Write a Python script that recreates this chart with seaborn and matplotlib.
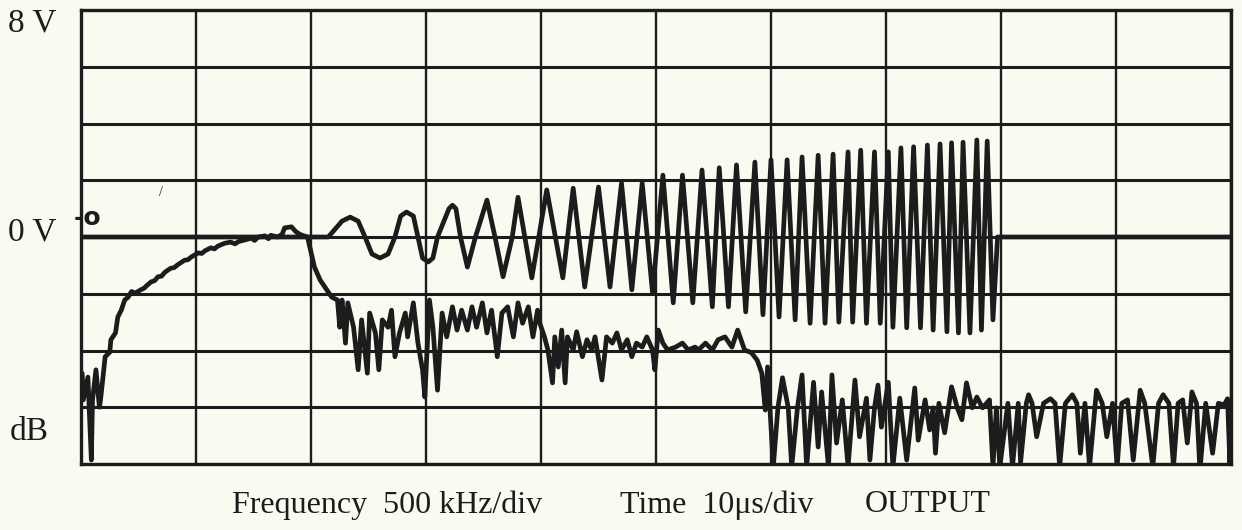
import matplotlib
matplotlib.use("Agg")
import matplotlib.pyplot as plt
import pandas as pd
import seaborn as sns

# all points are (x, y) in screen divisions: x 0..10, y -4..4 with 0 V in the middle
# time trace, 10 us/div and 2 V/div: swept sine, extremes
chirp_pts = [(0, 0), (2.15, 0),
             (2.27, 0.28), (2.34, 0.35), (2.41, 0.28), (2.47, 0), (2.53, -0.30), (2.60, -0.37),
             (2.67, -0.30), (2.73, 0), (2.78, 0.37), (2.83, 0.44), (2.89, 0.37), (2.93, 0),
             (2.97, -0.37), (3.02, -0.44), (3.06, -0.37), (3.10, 0), (3.20, 0.50), (3.23, 0.56),
             (3.26, 0.50), (3.30, 0), (3.36, -0.53), (3.43, 0), (3.53, 0.65), (3.60, 0),
             (3.67, -0.70), (3.75, 0), (3.80, 0.70), (3.92, -0.72), (4.05, 0.83),
             (4.19, -0.72), (4.28, 0.86), (4.38, -0.88), (4.50, 0.88), (4.60, -0.88),
             (4.70, 0.95), (4.79, -0.93), (4.88, 0.95), (4.97, -0.99), (5.06, 1.09),
             (5.15, -1.16), (5.23, 1.09), (5.32, -1.16), (5.40, 1.18), (5.49, -1.23),
             (5.55, 1.22), (5.63, -1.23), (5.70, 1.27), (5.78, -1.32), (5.86, 1.32),
             (5.93, -1.37), (6.00, 1.36), (6.07, -1.41), (6.14, 1.36), (6.21, -1.46),
             (6.27, 1.41), (6.34, -1.52), (6.41, 1.44), (6.47, -1.52), (6.54, 1.46),
             (6.59, -1.50), (6.67, 1.50), (6.71, -1.50), (6.78, 1.53), (6.83, -1.52),
             (6.90, 1.50), (6.95, -1.52), (7.02, 1.50), (7.06, -1.59), (7.13, 1.57),
             (7.18, -1.60), (7.24, 1.59), (7.30, -1.60), (7.36, 1.62), (7.41, -1.64),
             (7.47, 1.64), (7.53, -1.67), (7.57, 1.66), (7.63, -1.69), (7.67, 1.67),
             (7.73, -1.69), (7.79, 1.71), (7.83, -1.64), (7.88, 1.69), (7.93, -1.46),
             (7.97, 0), (10, 0)]

# spectrum trace, 500 kHz/div, dB
spec_rise = [(0.01, -2.40), (0.02, -2.87), (0.06, -2.47), (0.09, -3.93), (0.10, -2.87),
             (0.13, -2.34), (0.16, -3.00), (0.17, -2.87), (0.21, -2.11), (0.25, -2.03),
             (0.26, -1.81), (0.30, -1.69), (0.32, -1.41), (0.35, -1.29), (0.38, -1.11),
             (0.41, -1.06), (0.44, -0.96), (0.47, -0.99), (0.52, -0.93), (0.55, -0.90),
             (0.57, -0.86), (0.61, -0.79), (0.64, -0.77), (0.67, -0.70), (0.70, -0.69),
             (0.73, -0.62), (0.78, -0.55), (0.81, -0.54), (0.84, -0.49), (0.90, -0.41),
             (0.93, -0.40), (0.96, -0.35), (1.02, -0.28), (1.05, -0.29), (1.08, -0.24),
             (1.13, -0.19), (1.16, -0.21), (1.19, -0.16), (1.25, -0.11), (1.30, -0.09),
             (1.34, -0.12), (1.37, -0.08), (1.43, -0.05), (1.48, -0.02), (1.51, -0.06),
             (1.54, 0.00), (1.60, 0.02), (1.63, -0.03), (1.65, 0.03), (1.71, 0.00),
             (1.75, 0.05), (1.77, 0.16), (1.83, 0.18), (1.87, 0.09), (1.91, 0.04),
             (1.97, 0.00), (1.99, -0.18), (2.03, -0.53), (2.08, -0.76), (2.12, -0.88),
             (2.18, -1.06), (2.23, -1.11)]
spec_band = [(2.25, -1.59), (2.27, -1.11), (2.30, -1.87), (2.32, -1.16), (2.37, -1.59),
             (2.41, -2.34), (2.44, -1.46), (2.49, -2.40), (2.51, -1.34), (2.56, -1.69),
             (2.59, -2.34), (2.62, -1.46), (2.67, -1.59), (2.70, -1.29), (2.73, -2.11),
             (2.77, -1.69), (2.82, -1.34), (2.84, -1.76), (2.89, -1.16), (2.93, -1.87),
             (2.97, -2.34), (2.99, -2.82), (3.03, -1.11), (3.06, -1.59), (3.10, -2.70),
             (3.14, -1.34), (3.18, -1.76), (3.23, -1.23), (3.27, -1.64), (3.31, -1.29),
             (3.36, -1.64), (3.40, -1.23), (3.44, -1.59), (3.49, -1.16), (3.53, -1.69),
             (3.57, -1.29), (3.62, -2.11), (3.66, -1.34), (3.71, -1.23), (3.76, -1.76),
             (3.80, -1.16), (3.84, -1.52), (3.89, -1.23), (3.93, -1.76), (3.97, -1.29),
             (3.99, -1.52)]
spec_shelf = [(4.03, -1.76), (4.06, -1.99), (4.10, -2.57), (4.12, -1.76), (4.15, -2.29),
              (4.18, -1.64), (4.21, -2.57), (4.23, -1.76), (4.28, -1.99), (4.31, -1.67),
              (4.36, -2.11), (4.40, -1.81), (4.44, -1.99), (4.47, -1.76), (4.53, -2.52),
              (4.57, -1.76), (4.62, -1.87), (4.66, -1.69), (4.70, -1.99), (4.75, -1.81),
              (4.79, -2.11), (4.83, -1.87), (4.88, -1.94), (4.92, -1.76), (4.97, -1.99),
              (4.99, -2.34), (5.02, -1.64), (5.06, -1.87), (5.10, -1.99), (5.17, -1.94),
              (5.23, -1.87), (5.28, -1.99), (5.34, -1.94), (5.37, -1.99), (5.43, -1.87),
              (5.49, -1.99), (5.54, -1.81), (5.60, -1.76), (5.66, -1.94), (5.71, -1.64),
              (5.77, -1.99), (5.83, -2.04), (5.88, -2.17), (5.92, -2.40), (5.95, -3.05),
              (5.97, -2.29)]
spec_floor = [(6.02, -4.05), (6.06, -3.01), (6.10, -2.48), (6.15, -3.01), (6.18, -4.05),
              (6.23, -3.01), (6.27, -2.43), (6.31, -4.05), (6.37, -2.56), (6.41, -3.70),
              (6.44, -2.73), (6.50, -4.05), (6.53, -2.43), (6.57, -3.63), (6.62, -2.87),
              (6.67, -4.05), (6.73, -2.52), (6.77, -3.52), (6.83, -2.84), (6.86, -3.93),
              (6.90, -3.01), (6.93, -2.61), (6.96, -3.35), (7.02, -2.56), (7.06, -4.05),
              (7.12, -2.84), (7.18, -3.93), (7.25, -2.66), (7.28, -3.58), (7.34, -2.87),
              (7.38, -3.40), (7.41, -3.01), (7.43, -3.81), (7.46, -2.93), (7.51, -3.45),
              (7.57, -2.64), (7.62, -3.01), (7.66, -3.22), (7.70, -2.57), (7.75, -3.01),
              (7.79, -2.82), (7.84, -3.01), (7.90, -2.87), (7.93, -4.05), (7.96, -3.01),
              (7.99, -4.05), (8.06, -2.93), (8.10, -4.05), (8.15, -2.93), (8.17, -3.98),
              (8.22, -2.93), (8.24, -2.78), (8.27, -2.93), (8.31, -3.52), (8.37, -2.93),
              (8.43, -2.85), (8.47, -2.93), (8.51, -4.05), (8.56, -2.93), (8.62, -2.78),
              (8.66, -2.93), (8.69, -3.81), (8.73, -2.93), (8.77, -4.05), (8.83, -2.70),
              (8.88, -2.93), (8.92, -3.52), (8.97, -2.93), (9.01, -4.05), (9.05, -2.93),
              (9.10, -2.87), (9.15, -3.93), (9.21, -2.70), (9.25, -2.93), (9.32, -4.05),
              (9.37, -2.93), (9.41, -2.78), (9.46, -2.93), (9.50, -4.05), (9.54, -2.93),
              (9.58, -2.87), (9.62, -3.63), (9.66, -2.73), (9.70, -2.93), (9.73, -4.11),
              (9.78, -2.93), (9.84, -3.81), (9.89, -2.93), (9.94, -2.96), (9.97, -2.85),
              (9.99, -3.98), (10.0, -3.26)]

caption = ["Frequency  500 kHz/div", "Time  10\u03bcs/div", "OUTPUT"]

sns.set_theme(style="white")
plt.rcParams["font.family"] = ["Liberation Serif", "DejaVu Serif"]

paper = "#fbfaf1"
ink = "#1c1c1c"

fig = plt.figure(figsize=(12.42, 5.30), dpi=100, facecolor=paper)
ax = fig.add_axes([81 / 1242, 1 - 464 / 530, 1150 / 1242, 454 / 530])
ax.set_facecolor(paper)

chirp = pd.DataFrame(chirp_pts, columns=["x", "y"])
spec = pd.DataFrame(spec_rise + spec_band + spec_shelf + spec_floor, columns=["x", "y"])
for df in (chirp, spec):
    sns.lineplot(data=df, x="x", y="y", ax=ax, color=ink, linewidth=3.4,
                 estimator=None, sort=False, solid_joinstyle="round")

ax.set_xlim(0, 10)
ax.set_ylim(-4, 4)
ax.set_xticks(range(11))
ax.set_yticks(range(-4, 5))
ax.xaxis.grid(True, color=ink, linewidth=1.7)
ax.yaxis.grid(True, color=ink, linewidth=2.2)
ax.set_axisbelow(True)
ax.set_xlabel("")
ax.set_ylabel("")
ax.tick_params(left=False, bottom=False, labelleft=False, labelbottom=False)
# little trigger mark under the frame
ax.set_xticks([2], minor=True)
ax.tick_params(which="minor", bottom=True, length=5, width=4, color=ink)
for s in ax.spines.values():
    s.set_color(ink)
    s.set_linewidth(2.4)

# scale labels on the left
fig.text(8 / 1242, 1 - 23 / 530, "8 V", fontsize=24, color=ink, va="center")
fig.text(8 / 1242, 1 - 232 / 530, "0 V", fontsize=24, color=ink, va="center")
fig.text(10 / 1242, 1 - 432 / 530, "dB", fontsize=24, color=ink, va="center")
ax.text(-0.06, 0.33, "-o", fontsize=18, fontweight="bold", color=ink,
        family="DejaVu Sans", va="center", clip_on=False)
ax.text(0.68, 0.78, "/", fontsize=10, color=ink, va="center")

for label, left in zip(caption, [232, 620, 865]):
    fig.text(left / 1242, 1 - 505 / 530, label, fontsize=23, color=ink, va="center")

fig.savefig("out.png", dpi=100, facecolor=paper)
